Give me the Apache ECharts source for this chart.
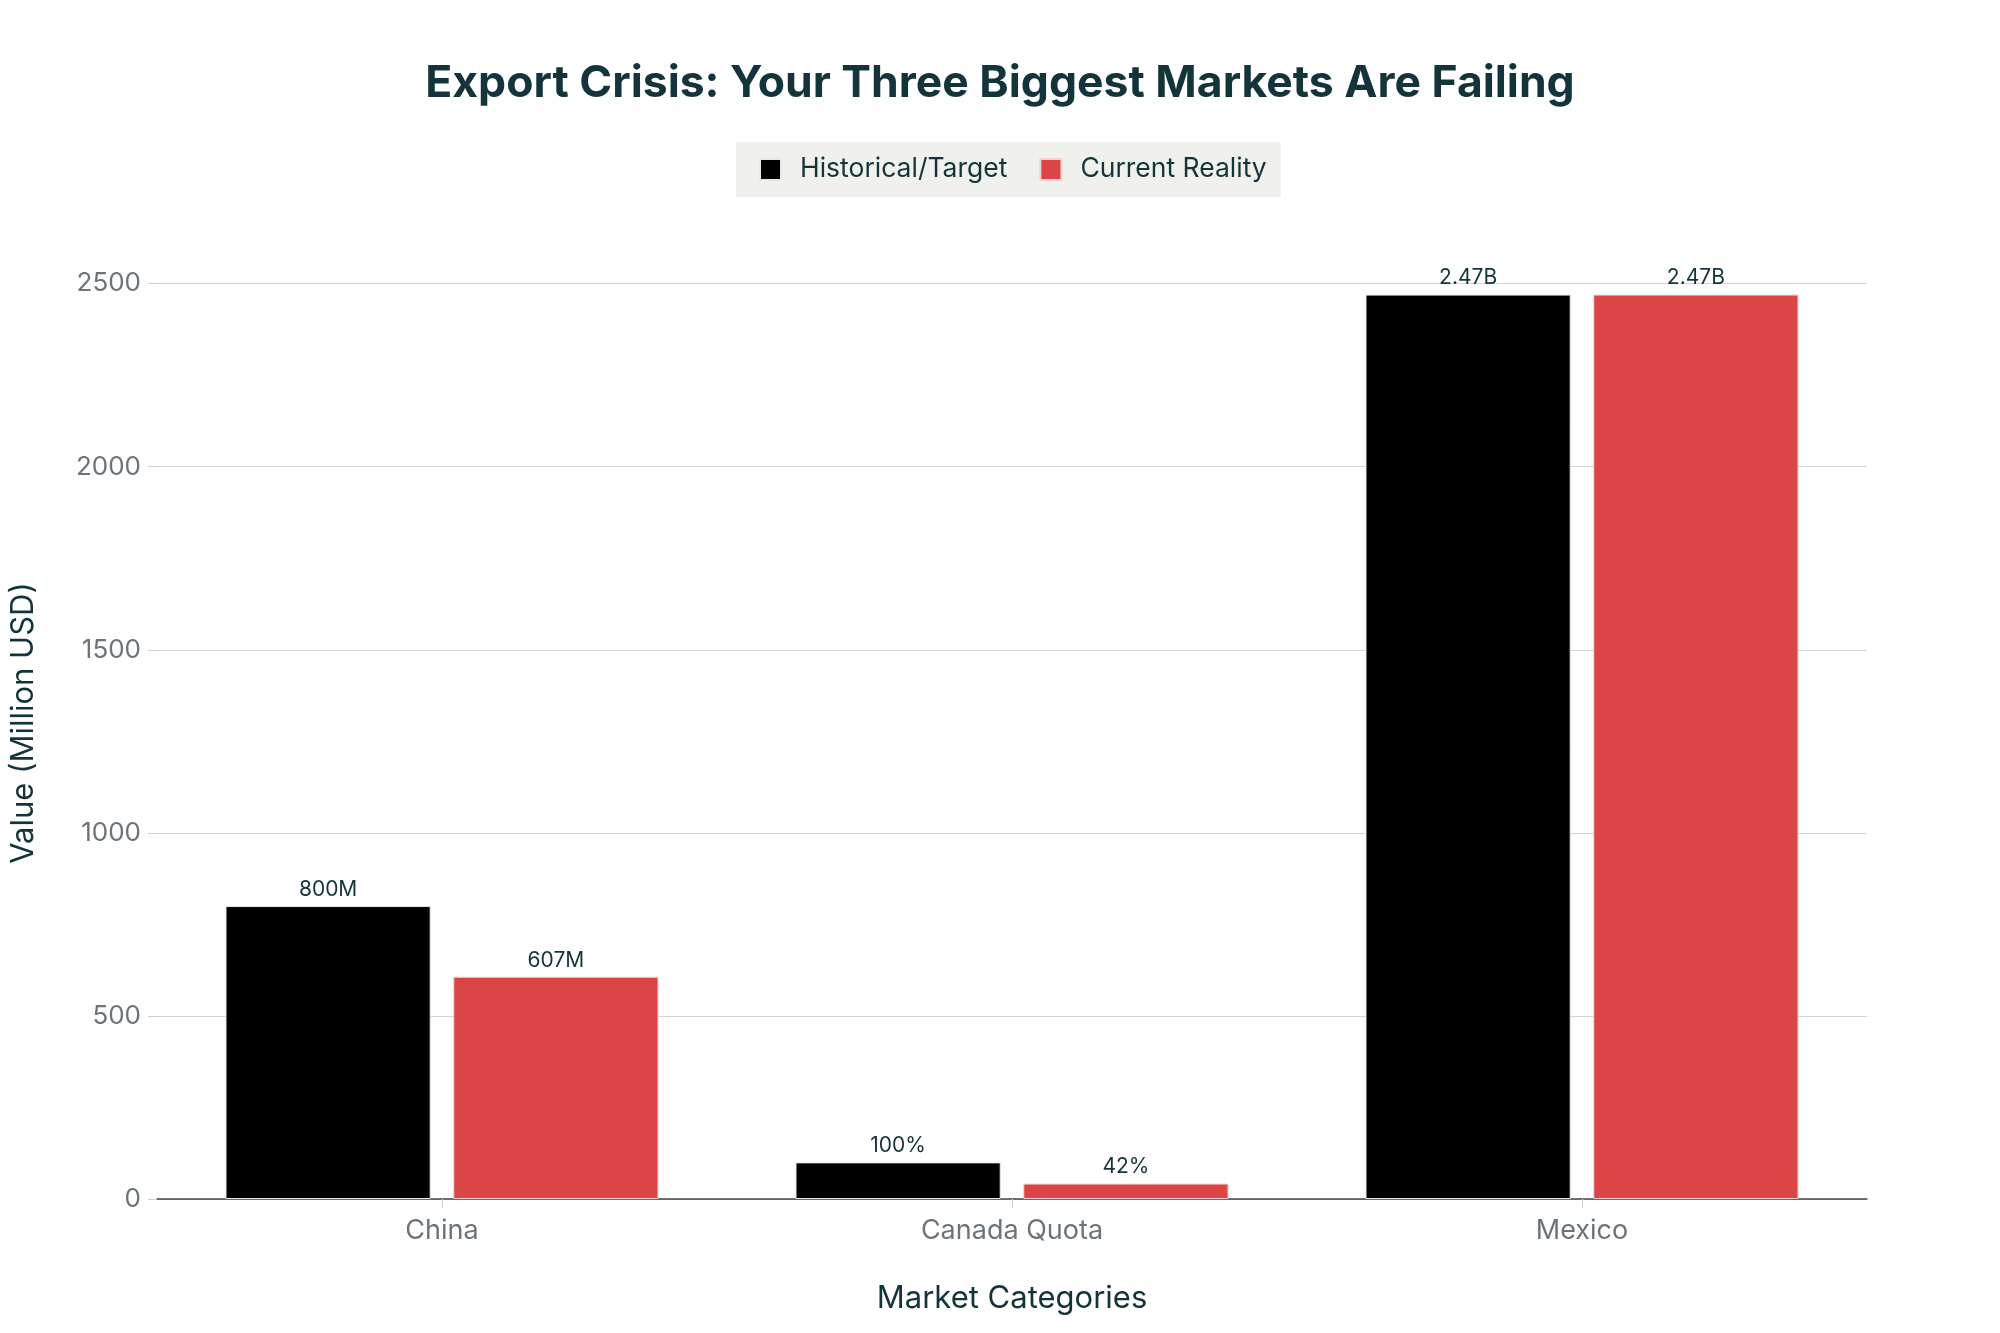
<!DOCTYPE html>
<html>
<head>
<meta charset="utf-8">
<script src="https://cdn.jsdelivr.net/npm/echarts@6/dist/echarts.min.js"></script>
<style>
html,body{margin:0;padding:0;background:#fff;}
#chart{width:2000px;height:1333px;}
</style>
</head>
<body>
<div id="chart"></div>
<script>
const categories = ['China', 'Canada Quota', 'Mexico'];
const historicalTarget = [800, 100, 2470];
const currentReality = [607, 42, 2470];
const historicalLabels = ['800M', '100%', '2.47B'];
const currentLabels = ['607M', '42%', '2.47B'];
const yTicks = [0, 500, 1000, 1500, 2000, 2500];
const yMax = 2600;

const FONT = 'Inter, "Liberation Sans", sans-serif';
const chart = echarts.init(document.getElementById('chart'), null, {renderer: 'canvas'});

chart.setOption({
  backgroundColor: '#ffffff',
  animation: false,
  textStyle: {fontFamily: FONT},
  title: {
    text: 'Export Crisis: Your Three Biggest Markets Are Failing',
    left: 'center',
    top: 56,
    textStyle: {fontFamily: FONT, fontSize: 44.5, fontWeight: 'bold', color: '#13343b'}
  },
  legend: {
    top: 142,
    left: 736,
    backgroundColor: '#f0f1ec',
    padding: [14, 14, 14, 23],
    itemWidth: 21,
    itemHeight: 21,
    itemGap: 32,
    icon: 'rect',
    textStyle: {fontFamily: FONT, fontSize: 26.5, color: '#13343b', padding: [0, 0, 0, 14]},
    data: ['Historical/Target', 'Current Reality']
  },
  grid: {left: 151, right: 133, top: 247, bottom: 134, containLabel: false},
  xAxis: {
    type: 'category',
    data: categories,
    name: 'Market Categories',
    nameLocation: 'middle',
    nameGap: 84,
    nameTextStyle: {fontFamily: FONT, fontSize: 31, color: '#13343b'},
    axisLine: {show: true, lineStyle: {color: '#444', width: 1.5}},
    axisTick: {show: true, alignWithLabel: true, length: 9, lineStyle: {color: '#d0d0d0'}},
    axisLabel: {fontFamily: FONT, fontSize: 27, color: '#6b747a', margin: 18},
    splitLine: {show: false}
  },
  yAxis: {
    type: 'value',
    min: yTicks[0],
    max: yMax,
    interval: 500,
    name: 'Value (Million USD)',
    nameLocation: 'middle',
    nameGap: 118,
    nameRotate: 90,
    nameTextStyle: {fontFamily: FONT, fontSize: 31, color: '#13343b'},
    axisLine: {show: false},
    axisTick: {show: true, length: 9, customValues: yTicks, lineStyle: {color: '#d0d0d0'}},
    axisLabel: {fontFamily: FONT, fontSize: 26, color: '#6b747a', margin: 16,
      customValues: yTicks, formatter: v => String(v)},
    splitLine: {lineStyle: {color: '#d4d4d4', width: 1.2}}
  },
  series: [
    {
      name: 'Historical/Target',
      type: 'bar',
      data: historicalTarget,
      barWidth: '36%',
      barGap: '11%',
      itemStyle: {color: '#000000', borderColor: '#e8e8e8', borderWidth: 1},
      label: {
        show: true, position: 'top', distance: 6,
        fontFamily: FONT, fontSize: 21, color: '#13343b',
        formatter: p => historicalLabels[p.dataIndex]
      }
    },
    {
      name: 'Current Reality',
      type: 'bar',
      data: currentReality,
      barWidth: '36%',
      itemStyle: {color: '#db4545', borderColor: '#f0d0d0', borderWidth: 1},
      label: {
        show: true, position: 'top', distance: 6,
        fontFamily: FONT, fontSize: 21, color: '#13343b',
        formatter: p => currentLabels[p.dataIndex]
      }
    }
  ]
});
</script>
</body>
</html>
